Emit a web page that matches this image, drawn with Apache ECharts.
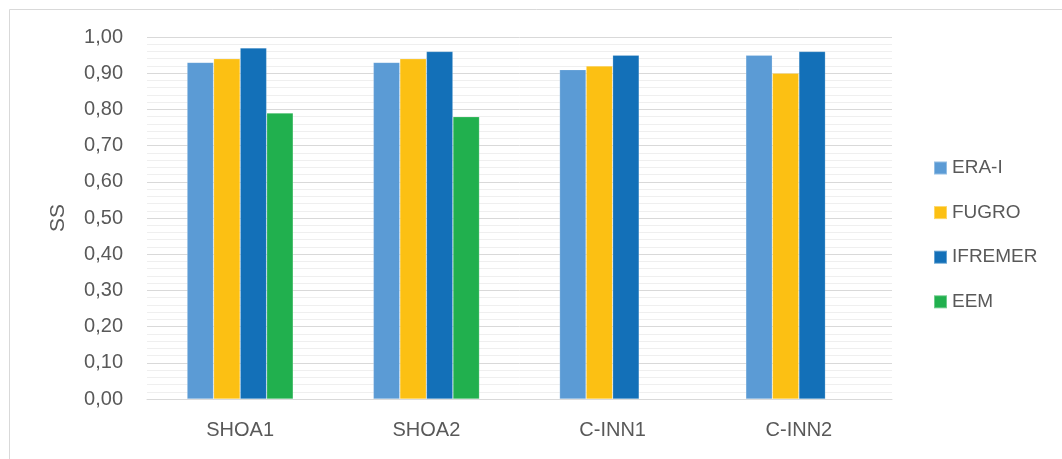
<!DOCTYPE html>
<html>
<head>
<meta charset="utf-8">
<script src="https://cdn.jsdelivr.net/npm/echarts@6/dist/echarts.min.js"></script>
<style>
html,body{margin:0;padding:0;background:#fff;}
#c{width:1062px;height:459px;}
</style>
</head>
<body>
<div id="c"></div>
<script>
const categories = ['SHOA1', 'SHOA2', 'C-INN1', 'C-INN2'];
const eraI = [0.93, 0.93, 0.91, 0.95];
const fugro = [0.94, 0.94, 0.92, 0.90];
const ifremer = [0.97, 0.96, 0.95, 0.96];
const eem = [0.79, 0.78, null, null];
const seriesNames = ['ERA-I', 'FUGRO', 'IFREMER', 'EEM'];
const seriesColors = ['#5B9BD5', '#FCC013', '#1370B8', '#21B04E'];
const seriesData = [eraI, fugro, ifremer, eem];

const FONT = '"Liberation Sans", Arial, sans-serif';
const TXT = '#595959';

const chart = echarts.init(document.getElementById('c'), null, {renderer: 'canvas'});
chart.setOption({
  animation: false,
  backgroundColor: '#ffffff',
  graphic: [{
    type: 'rect', left: 7, top: 7, silent: true,
    shape: {x: 0, y: 0, width: 1100, height: 500},
    style: {fill: 'none', stroke: '#d9d9d9', lineWidth: 1}
  }],
  grid: {left: 147, right: 170, top: 37, bottom: 60, containLabel: false},
  legend: {
    orient: 'vertical', left: 928, top: 153,
    itemWidth: 13, itemHeight: 13, itemGap: 24.6,
    icon: 'rect',
    textStyle: {color: TXT, fontSize: 19, fontFamily: FONT, lineHeight: 20},
    data: seriesNames
  },
  xAxis: {
    type: 'category', data: categories,
    axisLine: {lineStyle: {color: '#d9d9d9', width: 1}},
    axisTick: {show: false},
    axisLabel: {color: TXT, fontSize: 20, fontFamily: FONT, margin: 21}
  },
  yAxis: {
    type: 'value', min: 0, max: 1, interval: 0.1,
    name: 'SS', nameLocation: 'middle', nameRotate: 90, nameGap: 78,
    nameTextStyle: {color: TXT, fontSize: 21, fontFamily: FONT},
    axisLine: {show: false}, axisTick: {show: false},
    axisLabel: {color: TXT, fontSize: 20, fontFamily: FONT, margin: 24,
      formatter: v => v.toFixed(2).replace('.', ',')},
    splitLine: {lineStyle: {color: '#d9d9d9', width: 1}},
    minorTick: {show: false, splitNumber: 5},
    minorSplitLine: {show: true, lineStyle: {color: '#efefef', width: 1}}
  },
  series: seriesNames.map((n, i) => ({
    name: n, type: 'bar', data: seriesData[i],
    barGap: '0%', barCategoryGap: '43%',
    itemStyle: {color: seriesColors[i], borderColor: 'rgba(255,255,255,0.35)', borderWidth: 0.6}
  }))
});
</script>
</body>
</html>
